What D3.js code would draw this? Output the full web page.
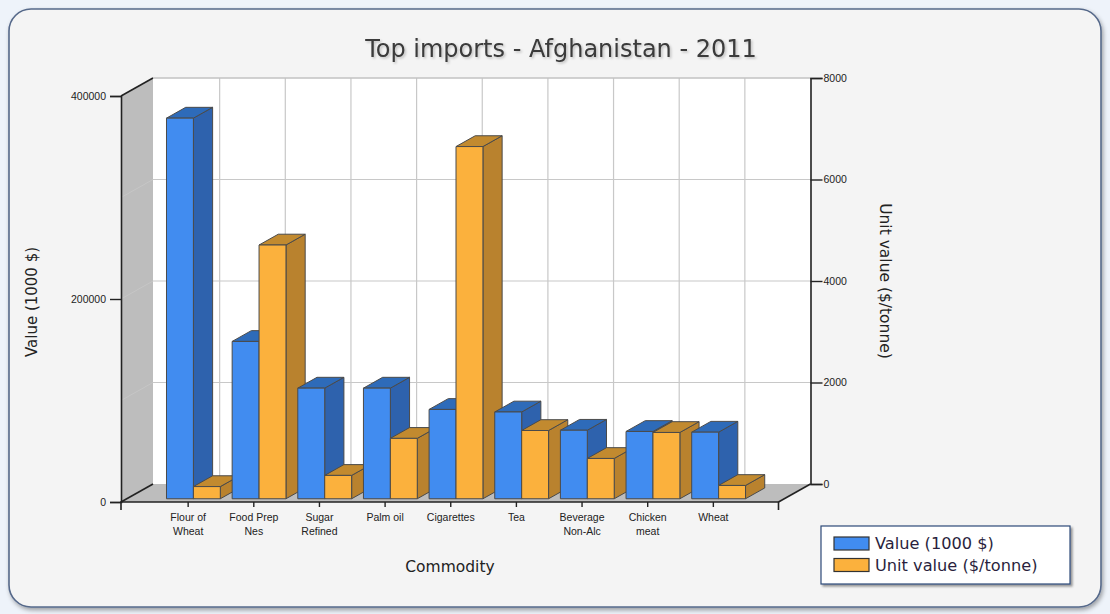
<!DOCTYPE html>
<html><head><meta charset="utf-8">
<script src="https://cdn.jsdelivr.net/npm/d3@7"></script>
<style>
html,body{margin:0;padding:0;background:#eef3fa;}
svg{display:block;}
</style></head>
<body>
<svg id="c" width="1110" height="614"></svg>
<script>
const categories = ["Flour of Wheat","Food Prep Nes","Sugar Refined","Palm oil","Cigarettes","Tea","Beverage Non-Alc","Chicken meat","Wheat"];
const categoryLines = [["Flour of","Wheat"],["Food Prep","Nes"],["Sugar","Refined"],["Palm oil"],["Cigarettes"],["Tea"],["Beverage","Non-Alc"],["Chicken","meat"],["Wheat"]];
const valueSeries = [375000,155000,109000,109000,88000,85500,67500,66300,65600];
const unitValueSeries = [240,5000,460,1190,6940,1345,794,1306,262];
const leftTicks = [0,200000,400000];
const leftGrid = [100000,200000,300000,400000];
const rightTicks = [0,2000,4000,6000,8000];
const seriesNames = ["Value (1000 $)","Unit value ($/tonne)"];

const svg = d3.select("#c");
const defs = svg.append("defs");
const f = defs.append("filter").attr("id","sh").attr("x","-5%").attr("y","-5%").attr("width","110%").attr("height","115%");
f.append("feDropShadow").attr("dx",1.5).attr("dy",2.5).attr("stdDeviation",2).attr("flood-color","#000").attr("flood-opacity",0.35);
const f2 = defs.append("filter").attr("id","sh2");
f2.append("feDropShadow").attr("dx",2).attr("dy",2).attr("stdDeviation",1.2).attr("flood-color","#000").attr("flood-opacity",0.4);
const f3 = defs.append("filter").attr("id","sh3");
f3.append("feDropShadow").attr("dx",1.5).attr("dy",1.5).attr("stdDeviation",1).attr("flood-color","#000").attr("flood-opacity",0.22);

// panel
svg.append("rect").attr("x",9).attr("y",9).attr("width",1092).attr("height",598).attr("rx",22)
  .attr("fill","#f4f4f4").attr("stroke","#56698a").attr("stroke-width",1.6).attr("filter","url(#sh)");

// geometry
const FL=121, FR=778.5, FB=502, FT=96;
const DX=32, DY=-18;
const P=(x,y,z)=>[x+z*DX, y+z*DY];
const x = d3.scalePoint().domain(categories).range([122,778.5]).padding(1);
const yL = d3.scaleLinear().domain([0,400000]).range([FB,FT]);
const yR = d3.scaleLinear().domain([0,8000]).range([FB,FT]);
const pts = a=>a.map(p=>p.join(",")).join(" ");

// back wall
const b0=P(FL,FT,1), b1=P(FR,FB,1);
svg.append("rect").attr("x",b0[0]).attr("y",b0[1]).attr("width",b1[0]-b0[0]).attr("height",b1[1]-b0[1]).attr("fill","#fff");
// left wall
svg.append("polygon").attr("points",pts([P(FL,FT,0),P(FL,FT,1),P(FL,FB,1),P(FL,FB,0)])).attr("fill","#bdbdbd");
// floor
svg.append("polygon").attr("points",pts([P(FL,FB,0),P(FL,FB,1),P(FR,FB,1),P(FR,FB,0)])).attr("fill","#bdbdbd");

// grid lines
const g = svg.append("g");
leftGrid.forEach(v=>{
  const a=P(FL,yL(v),1), b=P(FR,yL(v),1);
  g.append("line").attr("x1",a[0]).attr("y1",a[1]).attr("x2",b[0]).attr("y2",b[1]).attr("stroke","#c8c8c8").attr("stroke-width",1.2);
  const c=P(FL,yL(v),0);
  g.append("line").attr("x1",c[0]).attr("y1",c[1]).attr("x2",a[0]).attr("y2",a[1]).attr("stroke","#c6c6c6").attr("stroke-width",1);
});
categories.forEach(c=>{
  const a=P(x(c),FT,1), b=P(x(c),FB,1);
  g.append("line").attr("x1",a[0]).attr("y1",a[1]).attr("x2",b[0]).attr("y2",b[1]).attr("stroke","#c8c8c8").attr("stroke-width",1.2);
});

// bars
const z0=0.18, z1=0.78;
const w = x.step()*0.41;
const colors = [{front:"#418cf0",top:"#2e6bb9",side:"#2e62ad"},{front:"#fbb13d",top:"#c28a2f",side:"#b9822e"}];
const bars = svg.append("g").attr("stroke","#4a4a4a").attr("stroke-width",1).attr("stroke-linejoin","round");
function bar(xl,xr,yt,col){
  const gg=bars.append("g");
  gg.append("polygon").attr("points",pts([P(xr,yt,z0),P(xr,yt,z1),P(xr,FB,z1),P(xr,FB,z0)])).attr("fill",col.side);
  gg.append("polygon").attr("points",pts([P(xl,yt,z0),P(xr,yt,z0),P(xr,yt,z1),P(xl,yt,z1)])).attr("fill",col.top);
  gg.append("polygon").attr("points",pts([P(xl,yt,z0),P(xr,yt,z0),P(xr,FB,z0),P(xl,FB,z0)])).attr("fill",col.front);
}
categories.forEach((c,i)=>{
  bar(x(c)-w, x(c), yL(valueSeries[i]), colors[0]);
  bar(x(c), x(c)+w, yR(unitValueSeries[i]), colors[1]);
});

// frame edges
const e = svg.append("g").attr("stroke","#222").attr("stroke-width",1.6).attr("fill","none");
e.append("polyline").attr("points",pts([P(FL,FB,0),P(FL,FB,1)]));
e.append("polyline").attr("points",pts([P(FL,FT,0),P(FL,FT,1)]));
e.append("polyline").attr("points",pts([P(FR,FB,0),P(FR,FB,1)]));
const bt=P(FL,FT,1), br=P(FR,FT,1);
svg.append("line").attr("x1",bt[0]).attr("y1",bt[1]).attr("x2",br[0]).attr("y2",br[1]).attr("stroke","#c0c0c0").attr("stroke-width",1.2);

const tickFont = "'Liberation Sans', Arial, sans-serif";
// left axis
const ax1 = svg.append("g").attr("transform",`translate(${FL},0)`)
  .call(d3.axisLeft(yL).tickValues(leftTicks).tickSize(11).tickPadding(4).tickFormat(d3.format("d")));
// right axis (back plane)
const ax2 = svg.append("g").attr("transform",`translate(${FR+DX},${DY})`)
  .call(d3.axisRight(yR).tickValues(rightTicks).tickSize(12).tickPadding(1).tickFormat(d3.format("d")));
// bottom axis
const ax3 = svg.append("g").attr("transform",`translate(0,${FB})`)
  .call(d3.axisBottom(x).tickSize(5).tickSizeOuter(8).tickFormat(""));
[ax1,ax2,ax3].forEach(a=>{
  a.selectAll("path.domain").attr("stroke","#222").attr("stroke-width",1.6);
  a.selectAll(".tick line").attr("stroke","#222").attr("stroke-width",1.4);
  a.selectAll("text").attr("font-family",tickFont).attr("font-size",10.5).attr("fill","#222");
});
ax3.selectAll("path.domain").attr("d",`M${FL},8V0H${FR}V8`);
ax3.selectAll(".tick").each(function(d,i){
  const t=d3.select(this).append("text").attr("fill","#222").attr("font-family",tickFont).attr("font-size",10.5).attr("text-anchor","middle");
  categoryLines[i].forEach((s,j)=>t.append("tspan").attr("x",0).attr("y",19+j*13.5).text(s));
});

// titles
const tf = "'DejaVu Sans', Verdana, sans-serif";
svg.append("text").attr("x",561).attr("y",57).attr("text-anchor","middle").attr("font-family",tf).attr("font-size",24)
  .attr("fill","#3a3a3a").attr("filter","url(#sh3)").text("Top imports - Afghanistan - 2011");
svg.append("text").attr("transform","translate(37,302) rotate(-90)").attr("text-anchor","middle").attr("font-family",tf).attr("font-size",15)
  .attr("fill","#222").text("Value (1000 $)");
svg.append("text").attr("transform","translate(880,281) rotate(90)").attr("text-anchor","middle").attr("font-family",tf).attr("font-size",15.5)
  .attr("fill","#222").text("Unit value ($/tonne)");
svg.append("text").attr("x",450).attr("y",572).attr("text-anchor","middle").attr("font-family",tf).attr("font-size",15.5)
  .attr("fill","#222").text("Commodity");

// legend
const lg = svg.append("g");
lg.append("rect").attr("x",821).attr("y",526).attr("width",249).attr("height",58).attr("fill","#fff")
  .attr("stroke","#2d4a78").attr("stroke-width",1.2).attr("filter","url(#sh2)");
seriesNames.forEach((s,i)=>{
  lg.append("rect").attr("x",834).attr("y",537+i*21.5).attr("width",35).attr("height",13).attr("fill",colors[i].front)
    .attr("stroke","#333").attr("stroke-width",1.2);
  lg.append("text").attr("x",875).attr("y",549+i*21.5).attr("font-family",tf).attr("font-size",16.2).attr("fill","#2a1f3d").text(s);
});
</script>
</body></html>
